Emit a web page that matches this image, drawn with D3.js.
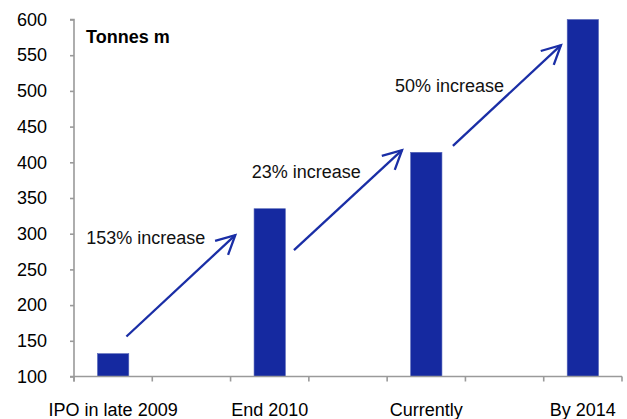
<!DOCTYPE html>
<html>
<head>
<meta charset="utf-8">
<script src="https://cdn.jsdelivr.net/npm/d3@7"></script>
<style>
  html, body { margin: 0; padding: 0; background: #fff; }
  svg { display: block; font-family: "Liberation Sans", Arial, sans-serif; }
</style>
</head>
<body>
<svg id="chart" width="627" height="419"></svg>
<script>
// ---- data ----
const categories = ["IPO in late 2009", "End 2010", "Currently", "By 2014"];
const values = [132, 335, 414, 600];
const yTicks = [100, 150, 200, 250, 300, 350, 400, 450, 500, 550, 600];
const unitLabel = "Tonnes m";
const increaseLabels = ["153% increase", "23% increase", "50% increase"];
// arrow annotations in data units: [slotStart, valueStart] -> [slotEnd, valueEnd]
const arrowFrom = [[0.67, 156], [2.81, 277], [4.84, 423]];
const arrowTo = [[2.06, 298], [4.19, 417], [6.22, 564]];
const labelAt = [[0.155, 286], [2.27, 378], [4.1, 498]];

(function () {
// ---- layout ----
const svg = d3.select("#chart");
const mLeft = 74, mRight = 622, mTop = 19.5, mBottom = 376.5;
const nSlots = categories.length * 2 - 1;
const slotIdx = categories.map((c, i) => i * 2);

const x = d3.scaleBand().domain(d3.range(nSlots)).range([mLeft, mRight]).paddingInner(0).paddingOuter(0);
const xs = d3.scaleLinear().domain([0, nSlots]).range([mLeft, mRight]); // continuous slot coords
const y = d3.scaleLinear().domain([100, 600]).range([mBottom, mTop]);

const barColor = "#1529a0";
const axisColor = "#9a9a9a";

// bars
const bw = x.bandwidth() * 0.4;
svg.append("g").selectAll("rect").data(values).join("rect")
  .attr("x", (d, i) => x(slotIdx[i]) + (x.bandwidth() - bw) / 2)
  .attr("y", d => y(d))
  .attr("width", bw)
  .attr("height", d => y(100) - y(d))
  .attr("fill", barColor)
  .attr("stroke", "#5565b8")
  .attr("stroke-width", 0.6);

// y axis
const yAxis = svg.append("g").attr("transform", `translate(${mLeft},0)`)
  .call(d3.axisLeft(y).tickValues(yTicks).tickSize(4).tickPadding(23).tickFormat(d3.format("d")));
yAxis.select(".domain").attr("stroke", axisColor).attr("stroke-width", 1.6)
  .attr("d", `M-4,${y(600)}H0V${mBottom + 5}`);
yAxis.selectAll(".tick line").attr("stroke", axisColor).attr("stroke-width", 1.6);
yAxis.selectAll(".tick text").attr("font-size", 18).attr("fill", "#000")
  .attr("font-family", "Liberation Sans, Arial, sans-serif");

// x axis
const xAxis = svg.append("g").attr("transform", `translate(0,${mBottom})`);
xAxis.append("line").attr("x1", mLeft - 4).attr("x2", mRight).attr("y1", 0).attr("y2", 0)
  .attr("stroke", axisColor).attr("stroke-width", 1.6);
xAxis.selectAll("line.tk").data(d3.range(nSlots + 1)).join("line").attr("class", "tk")
  .attr("x1", d => xs(d)).attr("x2", d => xs(d)).attr("y1", 0).attr("y2", 5)
  .attr("stroke", axisColor).attr("stroke-width", 1.6);
svg.append("g").selectAll("text").data(categories).join("text")
  .attr("x", (d, i) => x(slotIdx[i]) + x.bandwidth() / 2)
  .attr("y", 415.5)
  .attr("text-anchor", "middle")
  .attr("font-size", 18)
  .attr("fill", "#000")
  .text(d => d);

// unit label
svg.append("text").attr("x", 86).attr("y", 43).attr("font-size", 18)
  .attr("font-weight", "bold").attr("fill", "#000").text(unitLabel);

// arrows
const arrowColor = "#1a2ea6";
const arm = 21, ang = 27 * Math.PI / 180;
const ag = svg.append("g").attr("stroke", arrowColor).attr("stroke-width", 2.3)
  .attr("fill", "none").attr("stroke-linecap", "butt");
arrowFrom.forEach((s, i) => {
  const x1 = xs(s[0]), y1 = y(s[1]);
  const x2 = xs(arrowTo[i][0]), y2 = y(arrowTo[i][1]);
  ag.append("line").attr("x1", x1).attr("y1", y1).attr("x2", x2).attr("y2", y2);
  const th = Math.atan2(y1 - y2, x1 - x2);
  const p1 = [x2 + arm * Math.cos(th + ang), y2 + arm * Math.sin(th + ang)];
  const p2 = [x2 + arm * Math.cos(th - ang), y2 + arm * Math.sin(th - ang)];
  ag.append("path").attr("d", `M${p1[0]},${p1[1]}L${x2},${y2}L${p2[0]},${p2[1]}`)
    .attr("stroke-linejoin", "miter");
});

// increase labels
svg.append("g").selectAll("text").data(increaseLabels).join("text")
  .attr("x", (d, i) => xs(labelAt[i][0]))
  .attr("y", (d, i) => y(labelAt[i][1]))
  .attr("font-size", 18)
  .attr("fill", "#111")
  .text(d => d);
})();
</script>
</body>
</html>
